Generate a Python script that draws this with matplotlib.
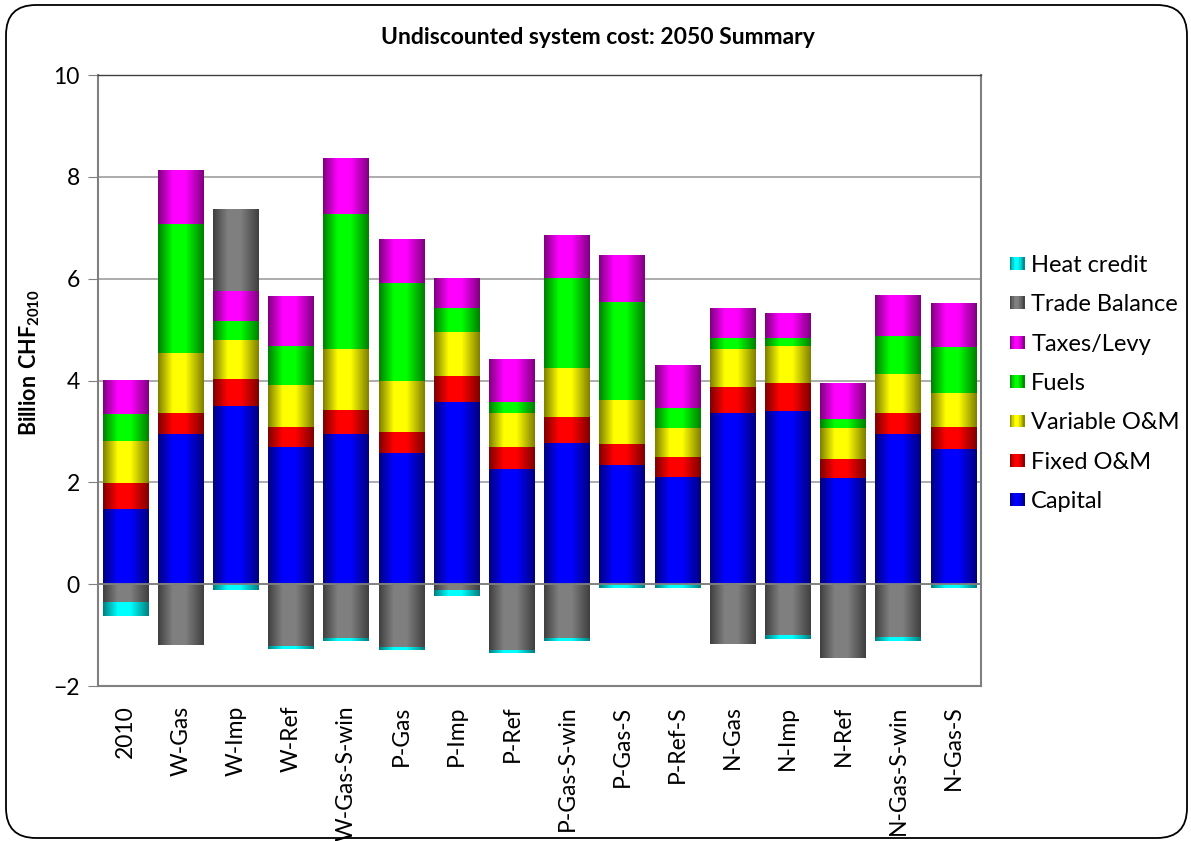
import matplotlib
matplotlib.use("Agg")
import matplotlib.pyplot as plt
import numpy as np
from matplotlib.patches import Rectangle, FancyBboxPatch
from matplotlib.legend_handler import HandlerBase

plt.rcParams['font.family'] = ['Lato', 'DejaVu Sans']
plt.rcParams['mathtext.fontset'] = 'custom'
plt.rcParams['mathtext.rm'] = 'Lato'
plt.rcParams['mathtext.bf'] = 'Lato:bold'

scenarios = ["2010", "W-Gas", "W-Imp", "W-Ref", "W-Gas-S-win", "P-Gas", "P-Imp",
             "P-Ref", "P-Gas-S-win", "P-Gas-S", "P-Ref-S", "N-Gas", "N-Imp",
             "N-Ref", "N-Gas-S-win", "N-Gas-S"]

# billion CHF2010, one value per scenario
capital = [1.48, 2.94, 3.49, 2.69, 2.94, 2.57, 3.57, 2.27, 2.78, 2.35, 2.11, 3.36, 3.41, 2.09, 2.94, 2.65]
fixed_om = [0.50, 0.43, 0.53, 0.39, 0.48, 0.41, 0.51, 0.42, 0.50, 0.40, 0.38, 0.51, 0.54, 0.36, 0.43, 0.43]
variable_om = [0.84, 1.17, 0.77, 0.83, 1.20, 1.01, 0.87, 0.67, 0.96, 0.86, 0.57, 0.75, 0.73, 0.61, 0.75, 0.67]
fuels = [0.53, 2.53, 0.38, 0.77, 2.66, 1.93, 0.48, 0.21, 1.78, 1.93, 0.40, 0.21, 0.15, 0.18, 0.75, 0.91]
taxes = [0.65, 1.05, 0.59, 0.98, 1.09, 0.86, 0.57, 0.83, 0.84, 0.91, 0.84, 0.57, 0.49, 0.69, 0.79, 0.86]
trade_balance = [-0.35, -1.20, 1.61, -1.24, -1.06, -1.24, -0.13, -1.31, -1.06, 0.0, 0.0, -1.18, -1.02, -1.45, -1.06, 0.0]
heat_credit = [-0.27, 0.0, -0.11, -0.04, -0.05, -0.05, -0.11, -0.05, -0.05, -0.07, -0.07, 0.0, -0.06, 0.0, -0.06, -0.07]

series = [
    ("Capital", capital, (0.0, 0.0, 1.0)),
    ("Fixed O&M", fixed_om, (1.0, 0.0, 0.0)),
    ("Variable O&M", variable_om, (1.0, 1.0, 0.0)),
    ("Fuels", fuels, (0.0, 1.0, 0.0)),
    ("Taxes/Levy", taxes, (1.0, 0.0, 1.0)),
    ("Trade Balance", trade_balance, (0.5, 0.5, 0.5)),
    ("Heat credit", heat_credit, (0.0, 1.0, 1.0)),
]


def shade_profile(t):
    # dark edges, bright middle: the "cylinder" look of the bars
    return np.interp(t, [0, 0.32, 0.6, 1], [0.5, 1.0, 1.0, 0.5])


def gradient_image(color):
    t = np.linspace(0, 1, 80)
    f = shade_profile(t)
    img = np.array(color)[None, None, :] * f[None, :, None]
    return img


class GradientHandler(HandlerBase):
    def create_artists(self, legend, orig_handle, xdescent, ydescent,
                       width, height, fontsize, trans):
        col = np.array(orig_handle.get_facecolor()[:3])
        n = 12
        arts = []
        for k in range(n):
            f = shade_profile((k + 0.5) / n)
            r = Rectangle((-xdescent + k * width / n, -ydescent), width / n + 0.3, height,
                          facecolor=col * f, edgecolor='none', transform=trans)
            arts.append(r)
        return arts


fig = plt.figure(figsize=(11.91, 8.41), dpi=100)
ax = fig.add_axes([0.0823, 0.1843, 0.7414, 0.7265])

x = np.arange(len(scenarios))
width = 0.83
pos_base = np.zeros(len(scenarios))
neg_base = np.zeros(len(scenarios))
handles = {}
for name, vals, color in series:
    vals = np.array(vals)
    base = np.where(vals >= 0, pos_base, neg_base)
    bars = ax.bar(x, vals, width, bottom=base, color=color, linewidth=0, zorder=2, label=name)
    handles[name] = bars.patches[0]
    img = gradient_image(color)
    for p in bars.patches:
        h = p.get_height()
        if h == 0:
            continue
        x0, y0, w = p.get_x(), p.get_y(), p.get_width()
        ax.imshow(img, extent=[x0, x0 + w, y0, y0 + h], aspect='auto',
                  interpolation='bilinear', zorder=3)
    pos_base += np.where(vals >= 0, vals, 0)
    neg_base += np.where(vals < 0, vals, 0)

ax.set_xlim(-0.5, len(scenarios) - 0.5)
ax.set_ylim(-2, 10)
ax.set_yticks(np.arange(-2, 11, 2))
ax.set_xticks(x)
ax.set_xticklabels(scenarios, rotation=90, fontsize=16.5)
ax.tick_params(axis='y', labelsize=16.5, length=7, color='#808080', pad=6)
ax.tick_params(axis='x', length=0, pad=14)
ax.grid(axis='y', color='#a6a6a6', linewidth=1.3, zorder=0)
ax.set_axisbelow(True)
ax.axhline(0, color='#808080', linewidth=1.3, zorder=4)
for side in ['left', 'right', 'bottom']:
    ax.spines[side].set_color('#808080')
    ax.spines[side].set_linewidth(1.5)
ax.spines['top'].set_color('#404040')
ax.spines['top'].set_linewidth(1.0)

ax.set_ylabel(r"$\mathbf{Billion\ CHF_{2010}}$", fontsize=15.5)
ax.yaxis.set_label_coords(-0.063, 0.53)
fig.text(0.502, 0.955, "Undiscounted system cost: 2050 Summary",
         ha='center', va='center', fontsize=16.5, fontweight='bold')

order = ["Heat credit", "Trade Balance", "Taxes/Levy", "Fuels",
         "Variable O&M", "Fixed O&M", "Capital"]
leg = fig.legend([handles[n] for n in order], order, loc='center left',
                 bbox_to_anchor=(0.848, 0.544), frameon=False, fontsize=17,
                 handlelength=0.6, handleheight=0.45, handletextpad=0.3,
                 labelspacing=0.78, borderpad=0, borderaxespad=0,
                 handler_map={Rectangle: GradientHandler()})

# rounded frame around the whole chart
frame = FancyBboxPatch((0.06, 0.03), 11.81, 8.33, boxstyle="round,pad=0,rounding_size=0.3",
                       transform=fig.dpi_scale_trans, facecolor='none',
                       edgecolor='black', linewidth=1.3)
fig.add_artist(frame)

fig.savefig("out.png", dpi=100)
